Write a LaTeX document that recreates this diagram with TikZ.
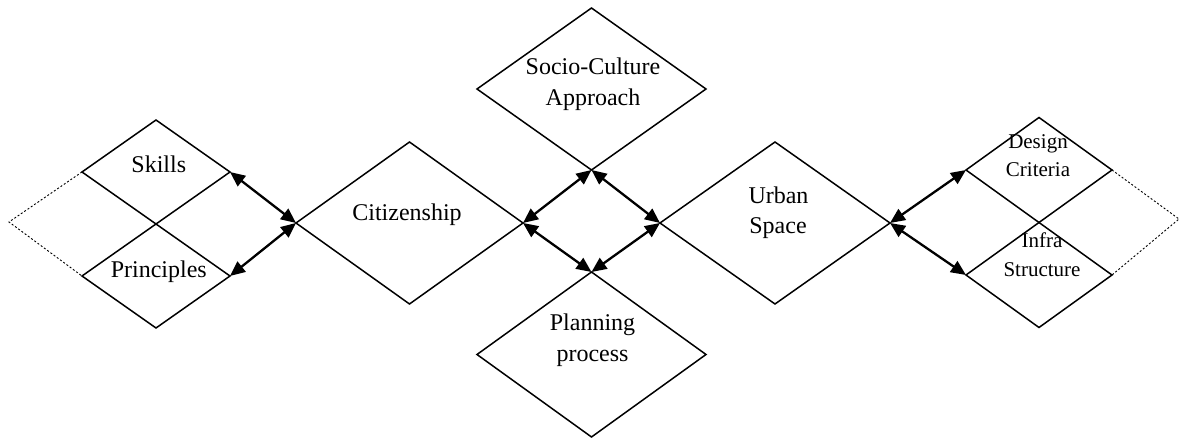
\documentclass[tikz,border=0pt]{standalone}
\usepackage{fontspec}
\setmainfont{Liberation Serif}
\usetikzlibrary{shapes.geometric,arrows.meta}

\begin{document}
\begin{tikzpicture}[
  x=0.5pt, y=-0.5pt,
  dia/.style={draw, diamond, inner sep=0pt, outer sep=0pt, line width=0.75pt},
  txt/.style={anchor=base, inner sep=0pt, font=\fontsize{12}{15}\selectfont},
  txtsm/.style={anchor=base, inner sep=0pt, font=\fontsize{10.5}{13}\selectfont},
  link/.style={line width=1.15pt, {Triangle[length=7.5pt,width=6.5pt]}-{Triangle[length=7.5pt,width=6.5pt]}},
  dots/.style={line width=0.45pt, dash pattern=on 1pt off 1pt}
]
\useasboundingbox (0,0) rectangle (1180,438);

% diamonds
\node[dia, minimum width=74pt, minimum height=52pt] (skills) at (156,172) {};
\node[dia, minimum width=74pt, minimum height=52pt] (princ) at (156,276) {};
\node[dia, minimum width=113.5pt, minimum height=81pt] (citiz) at (409.5,223) {};
\node[dia, minimum width=114.5pt, minimum height=81pt] (socio) at (591.5,89) {};
\node[dia, minimum width=114.5pt, minimum height=82.5pt] (plan) at (591.5,354.5) {};
\node[dia, minimum width=115pt, minimum height=81pt] (urban) at (775,223) {};
\node[dia, minimum width=73pt, minimum height=52.5pt] (design) at (1039,170) {};
\node[dia, minimum width=73pt, minimum height=52.5pt] (infra) at (1039,275) {};

% labels
\node[txt] (tskills) at (158.8,172.7) {Skills};
\node[txt] (tprinc) at (158.8,277.7) {Principles};
\node[txt] (tcitiz) at (407,220.7) {Citizenship};
\node[txt] (tsocioA) at (593,75) {Socio-Culture};
\node[txt] (tsocioB) at (593,106) {Approach};
\node[txt] (tplanA) at (592.5,331) {Planning};
\node[txt] (tplanB) at (592.5,361.7) {process};
\node[txt] (turbanA) at (778.5,203.3) {Urban};
\node[txt] (turbanB) at (778,233.3) {Space};
\node[txtsm] (tdesignA) at (1038,148.3) {Design};
\node[txtsm] (tdesignB) at (1038,176.7) {Criteria};
\node[txtsm] (tinfraA) at (1042,247.7) {Infra};
\node[txtsm] (tinfraB) at (1042,276.7) {Structure};

% dotted outer halves
\coordinate (lapex) at (9,222);
\coordinate (rapex) at (1179,219);
\draw[dots] (skills.west) -- (lapex) -- (princ.west);
\draw[dots] (design.east) -- (rapex) -- (infra.east);

% two-way links
\draw[link] (skills.east) -- (citiz.west);
\draw[link] (princ.east) -- (citiz.west);
\draw[link] (citiz.east) -- (socio.south);
\draw[link] (citiz.east) -- (plan.north);
\draw[link] (urban.west) -- (socio.south);
\draw[link] (urban.west) -- (plan.north);
\draw[link] (urban.east) -- (design.west);
\draw[link] (urban.east) -- (infra.west);
\end{tikzpicture}
\end{document}
